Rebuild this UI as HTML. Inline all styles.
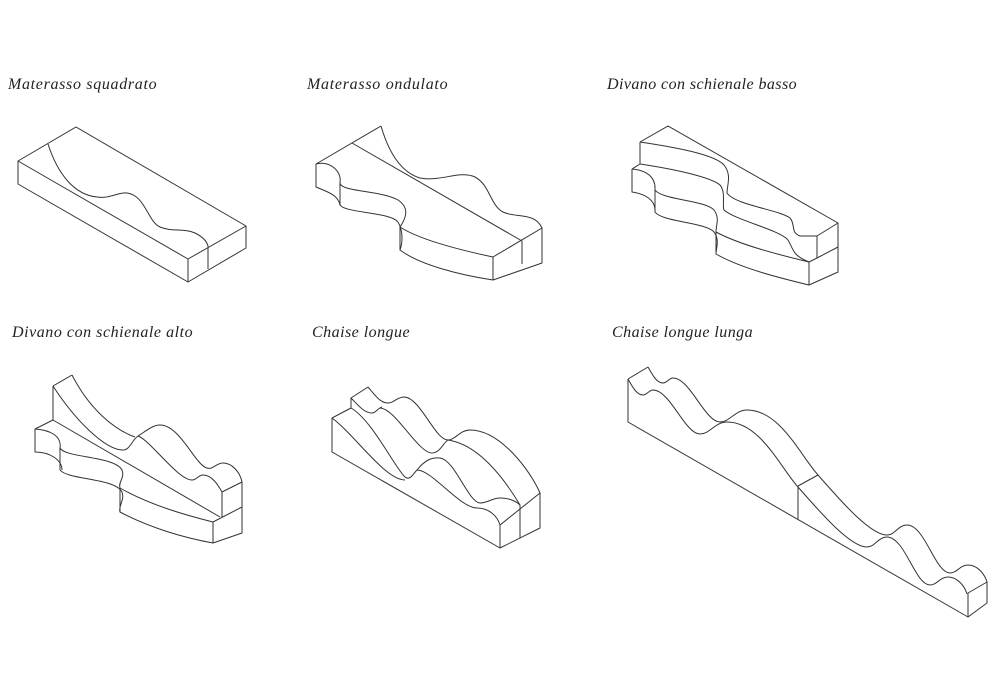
<!DOCTYPE html>
<html><head><meta charset="utf-8"><style>
body{margin:0;background:#fff;width:1000px;height:700px;overflow:hidden}
svg{display:block}
text{font-family:"Liberation Serif",serif;font-style:italic;font-size:16px;fill:#222;letter-spacing:0.4px}
path,line,polyline{fill:none;stroke:#333;stroke-width:1;stroke-linejoin:round}
</style></head><body>
<svg width="1000" height="700" viewBox="0 0 1000 700">
<rect width="1000" height="700" fill="#fff"/>
<text x="8" y="89" textLength="149">Materasso squadrato</text>
<text x="307" y="89" textLength="141">Materasso ondulato</text>
<text x="607" y="89" textLength="190">Divano con schienale basso</text>
<text x="12" y="337" textLength="181">Divano con schienale alto</text>
<text x="312" y="337" textLength="98">Chaise longue</text>
<text x="612" y="337" textLength="141">Chaise longue lunga</text>

<!-- Fig 1 -->
<path d="M18,161 L76,127 L246,226 L188,259 Z"/>
<path d="M18,161 L18,184 L188,282 L188,259"/>
<path d="M188,282 L246,248 L246,226"/>
<path d="M208,246 L208,269"/>
<path d="M48,144 C58,175 75,195 97,197 C110,199 118,192 127,193 C145,195 148,222 160,227 C172,232 183,228 195,233 C203,237 207,242 208,246"/>

<!-- Fig 2 -->
<path d="M316,164 L381,126"/>
<path d="M352,143 L522,241"/>
<path d="M381,126 C388,150 400,172 420,178 C440,182 460,170 475,177 C490,185 490,205 503,212 C515,218 535,212 542,228"/>
<path d="M542,228 L493,257 L493,280 L542,263 Z"/>
<path d="M522,241 L522,264"/>
<path d="M316,164 C330,160 342,172 340,182 C338,192 380,190 398,200 C410,208 406,218 400,227 C420,240 460,250 493,257"/>
<path d="M316,164 L316,187 C328,192 338,195 340,205 M340,182 L340,205 C345,213 390,212 398,222 C404,232 402,245 400,250 C420,265 460,275 493,280 M400,227 L400,250"/>

<!-- Fig 3 -->
<path d="M640,142 L668,126 L838,223 L817,236"/>
<path d="M640,142 C680,148 715,155 724,165 C732,175 727,185 727,193 C735,205 780,210 790,218 C796,225 790,232 800,236 L817,236 L817,258"/>
<path d="M640,142 L640,164"/>
<path d="M640,164 C680,170 712,178 720,185 C726,192 722,205 724,210 C735,220 780,230 788,240 C794,250 792,255 809,262"/>
<path d="M632,169 L640,164"/>
<path d="M632,169 C645,170 656,176 655,190 C662,200 705,200 714,210 C720,218 716,225 716,232 C740,245 780,255 809,262"/>
<path d="M632,169 L632,192 C645,194 656,200 655,212 M655,190 L655,212 C662,222 705,222 714,232 C720,240 716,248 716,254 C740,268 780,278 809,285 M716,232 L716,254"/>
<path d="M809,262 L809,285 L838,272 L838,223"/>
<path d="M817,258 L809,262 M817,258 L838,247"/>

<!-- Fig 4 -->
<path d="M53,386 L72,375"/>
<path d="M53,386 L53,420 L220,517"/>
<path d="M72,375 C90,410 115,430 135,437"/>
<path d="M53,386 C75,420 105,450 123,450 C130,450 132,440 138,436"/>
<path d="M138,436 C145,432 152,425 160,425 C180,425 195,465 207,468 C213,470 216,463 223,463 C232,463 240,472 242,482"/>
<path d="M138,436 C150,440 178,480 192,480 C197,480 198,475 203,475 C212,475 218,485 222,492"/>
<path d="M222,492 L242,482 L242,533 L213,543 L213,522 L242,507 M222,492 L222,517"/>
<path d="M35,429 L53,420"/>
<path d="M35,429 C50,430 62,436 60,448 C65,458 115,456 122,470 C125,478 118,482 120,488 C150,505 185,515 213,522"/>
<path d="M35,429 L35,452 C50,452 62,460 62,470 M60,448 L60,470 C68,480 115,478 122,492 C125,500 118,506 120,512 C150,528 185,538 213,543 M120,488 L120,512"/>

<!-- Fig 5 -->
<path d="M332,418 L351,408 L351,398 L368,387"/>
<path d="M332,418 L332,452 L500,548 L540,528 L540,493 L500,525 L500,548"/>
<path d="M520,505 L520,538"/>
<path d="M368,387 C375,395 380,403 388,403 C394,403 397,397 404,397 C420,397 435,440 448,440 C455,440 460,430 470,430 C500,430 530,470 540,493"/>
<path d="M351,398 C358,405 364,413 372,413 C376,413 378,408 382,407"/>
<path d="M380,408 C395,408 418,453 432,453 C440,453 443,443 448,440 C480,445 505,480 520,505"/>
<path d="M351,408 C372,420 395,468 405,477 C410,481 413,474 417,470"/>
<path d="M332,418 C355,435 385,480 405,480"/>
<path d="M417,470 C425,460 432,457 440,458 C455,460 468,502 480,503 C488,503 492,498 500,498 C510,498 517,502 520,505"/>
<path d="M417,470 C432,470 460,508 477,508 C488,508 497,515 500,525"/>

<!-- Fig 6 -->
<path d="M628,379 L648,367"/>
<path d="M628,379 L628,422 L968,617 L987,603 L987,582 L968,593 L968,617"/>
<path d="M798,486 L798,519 M798,486 L818,475"/>
<path d="M648,367 C653,376 657,383 663,383 C667,383 669,378 673,378 C690,378 705,422 720,422 C730,422 735,410 747,410 C780,410 800,455 818,475 C840,500 870,535 887,535 C895,535 898,525 907,525 C925,525 935,573 950,573 C957,573 960,565 968,565 C978,565 985,575 987,582"/>
<path d="M628,379 C633,388 637,395 643,395 C647,395 649,390 653,390 C670,390 685,434 700,434 C710,434 715,422 727,422 C760,422 780,467 798,487 C820,512 850,547 867,547 C875,547 878,537 887,537 C905,537 915,585 930,585 C937,585 940,577 948,577 C958,577 965,587 967,594"/>
</svg>
</body></html>
